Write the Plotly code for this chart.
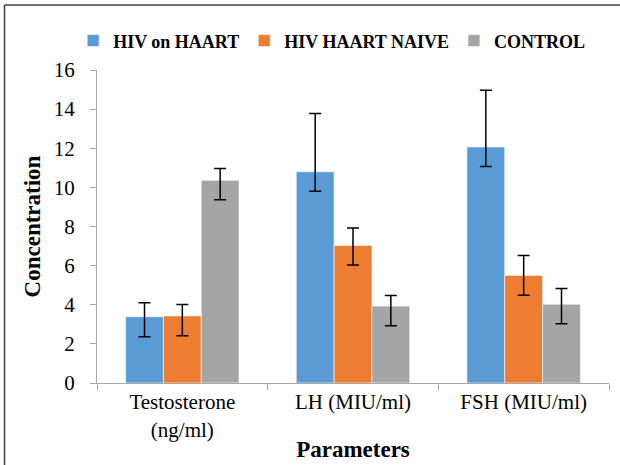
import plotly.graph_objects as go

categories = ["Testosterone<br>(ng/ml)", "LH (MIU/ml)", "FSH (MIU/ml)"]
series_names = ["HIV on HAART", "HIV HAART NAIVE", "CONTROL"]
hiv_haart = [3.39, 10.8, 12.07]
hiv_naive = [3.43, 7.03, 5.5]
control = [10.36, 3.93, 4.03]
err_plus_haart = [0.71, 2.98, 2.9]
err_minus_haart = [1.02, 1.0, 1.0]
err_plus_naive = [0.58, 0.89, 1.02]
err_minus_naive = [1.01, 1.0, 1.01]
err_plus_control = [0.61, 0.54, 0.8]
err_minus_control = [0.99, 1.0, 1.0]
colors = ["#5B9BD5", "#ED7D31", "#A5A5A5"]
y_ticks = [0, 2, 4, 6, 8, 10, 12, 14, 16]

values = [hiv_haart, hiv_naive, control]
eplus = [err_plus_haart, err_plus_naive, err_plus_control]
eminus = [err_minus_haart, err_minus_naive, err_minus_control]

fig = go.Figure()
for name, vals, ep, em, c in zip(series_names, values, eplus, eminus, colors):
    fig.add_trace(go.Bar(
        name=name, x=categories, y=vals, marker_color=c,
        marker_line=dict(color="rgba(255,255,255,0.6)", width=1),
        error_y=dict(type="data", symmetric=False, array=ep, arrayminus=em,
                     color="black", thickness=1.5, width=6),
    ))

font_family = "Liberation Serif, Times New Roman, serif"
fig.update_layout(
    width=620, height=465,
    margin=dict(l=97, r=11, t=70, b=82, autoexpand=False),
    paper_bgcolor="white", plot_bgcolor="white",
    barmode="group", bargap=0.335, bargroupgap=0,
    font=dict(family=font_family, color="black"),
    showlegend=True,
    legend=dict(orientation="h", xref="container", yref="container",
                x=0.118, xanchor="left", y=0.912, yanchor="middle",
                font=dict(family=font_family, size=18, color="black", weight="bold"),
                itemwidth=30, traceorder="normal"),
    xaxis=dict(
        automargin=False,
        showline=True, linecolor="#A6A6A6", linewidth=1.3,
        ticks="outside", tickson="boundaries", ticklen=6, tickcolor="#A6A6A6",
        tickfont=dict(size=21, family=font_family, color="black"),
        title=dict(text="<b>Parameters</b>", font=dict(size=23, family=font_family), standoff=0),
    ),
    yaxis=dict(
        automargin=False,
        range=[0, 16], tickvals=y_ticks, showgrid=False, zeroline=False,
        showline=True, linecolor="#A6A6A6", linewidth=1.3,
        ticks="outside", ticklen=6, tickcolor="#A6A6A6",
        tickfont=dict(size=21, family=font_family, color="black"),
        ticklabelstandoff=11,
        title=dict(text="<b>Concentration</b>", font=dict(size=23, family=font_family), standoff=6),
    ),
)
# outer chart frame: top and left edges (right and bottom lie outside the picture)
fig.add_shape(type="line", xref="paper", yref="paper",
              x0=(4.5 - 97) / 512, x1=(625 - 97) / 512,
              y0=(383 - 5) / 313, y1=(383 - 5) / 313,
              line=dict(color="#404040", width=1.5), layer="below")
fig.add_shape(type="line", xref="paper", yref="paper",
              x0=(4.5 - 97) / 512, x1=(4.5 - 97) / 512,
              y0=(383 - 5) / 313, y1=(383 - 470) / 313,
              line=dict(color="#404040", width=1.5), layer="below")
fig.write_html("out.html", config={"displayModeBar": False},
               post_script="document.head.insertAdjacentHTML('beforeend',"
                           "'<style>html,body{margin:0;padding:0;overflow:hidden;}"
                           "::-webkit-scrollbar{display:none;width:0;height:0;}</style>');")
